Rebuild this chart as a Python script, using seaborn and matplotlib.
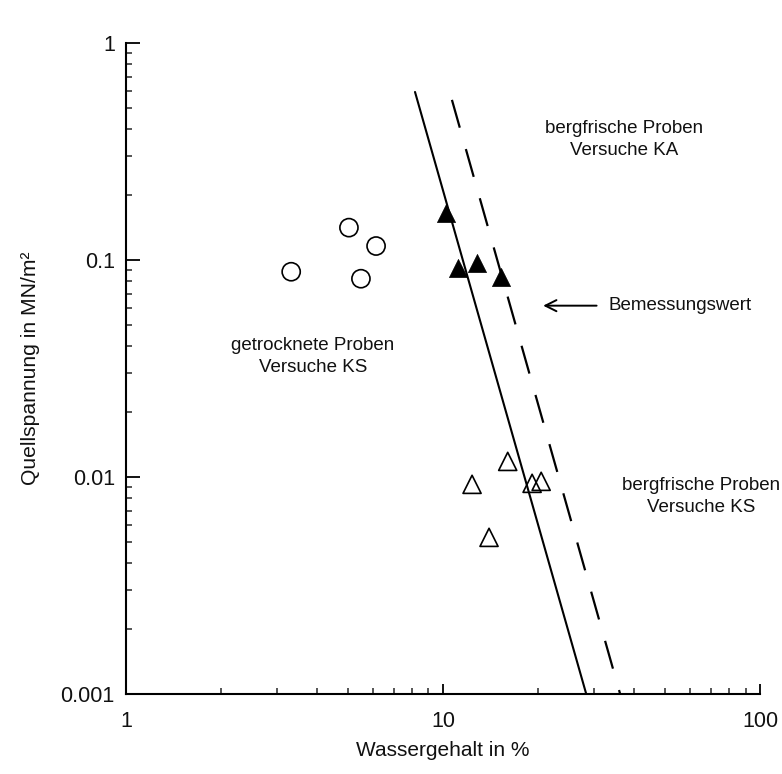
import numpy as np
import pandas as pd

import matplotlib
matplotlib.use('Agg')

import matplotlib.pyplot as plt
import matplotlib.ticker as mticker
import seaborn as sns


# =========================================================
# DATA
# =========================================================

# getrocknete Proben, Versuche KS (open circles)
ks_dry_w = [3.32, 5.05, 6.15, 5.51]
ks_dry_q = [0.0883, 0.141, 0.116, 0.082]

# bergfrische Proben, Versuche KA (filled triangles)
ka_w = [10.2, 11.15, 12.8, 15.2]
ka_q = [0.165, 0.0922, 0.0972, 0.0838]

# bergfrische Proben, Versuche KS (open triangles)
ks_w = [16.0, 12.35, 19.1, 20.4, 13.97]
ks_q = [0.0118, 0.00925, 0.00935, 0.00955, 0.00527]

# fitted line and design value line (end points)
fit_w = [8.16, 28.3]
fit_q = [0.595, 0.001]

design_w = [10.67, 36.2]
design_q = [0.547, 0.001]

x_ticks = [1, 10, 100]
x_tick_labels = ["1", "10", "100"]
y_ticks = [0.001, 0.01, 0.1, 1]
y_tick_labels = ["0.001", "0.01", "0.1", "1"]


# =========================================================
# STYLE
# =========================================================

sns.set_theme(style="ticks")

plt.rcParams['font.family'] = ['Liberation Sans', 'DejaVu Sans']

TEXT_COLOR = '#111111'

fig = plt.figure(figsize=(7.82, 7.74), dpi=100)

ax = fig.add_axes([0.1611, 0.1034, 0.8108, 0.841])


# =========================================================
# LINES
# =========================================================

sns.lineplot(
    x=fit_w,
    y=fit_q,
    color='black',
    linewidth=1.5,
    ax=ax,
    sort=False
)

sns.lineplot(
    x=design_w,
    y=design_q,
    color='black',
    linewidth=1.6,
    ax=ax,
    sort=False
).lines[-1].set_dashes((13, 10))


# =========================================================
# MARKERS
# =========================================================

sns.scatterplot(
    x=ks_dry_w,
    y=ks_dry_q,
    marker='o',
    s=170,
    facecolor='none',
    edgecolor='black',
    linewidth=1.2,
    ax=ax
)

sns.scatterplot(
    x=ka_w,
    y=ka_q,
    marker='^',
    s=170,
    color='black',
    edgecolor='black',
    linewidth=0.5,
    ax=ax
)

sns.scatterplot(
    x=ks_w,
    y=ks_q,
    marker='^',
    s=170,
    facecolor='none',
    edgecolor='black',
    linewidth=1.2,
    ax=ax
)


# =========================================================
# AXES
# =========================================================

ax.set_xscale('log')
ax.set_yscale('log')

ax.set_xlim(1, 100)
ax.set_ylim(0.001, 1)

ax.set_xticks(x_ticks)
ax.set_xticklabels(x_tick_labels)
ax.set_yticks(y_ticks)
ax.set_yticklabels(y_tick_labels)

ax.xaxis.set_minor_locator(mticker.LogLocator(base=10, subs=np.arange(2, 10)))
ax.yaxis.set_minor_locator(mticker.LogLocator(base=10, subs=np.arange(2, 10)))
ax.xaxis.set_minor_formatter(mticker.NullFormatter())
ax.yaxis.set_minor_formatter(mticker.NullFormatter())

ax.tick_params(axis='y', which='major', direction='in', length=10,
               width=1.3, pad=8, labelsize=15.5, colors='black',
               labelcolor=TEXT_COLOR)
ax.tick_params(axis='y', which='minor', direction='in', length=4.5,
               width=1.1)
ax.tick_params(axis='x', which='major', direction='in', length=7,
               width=1.3, pad=12, labelsize=15.5, colors='black',
               labelcolor=TEXT_COLOR)
ax.tick_params(axis='x', which='minor', direction='in', length=4,
               width=1.1)

for side in ['left', 'bottom']:
    ax.spines[side].set_linewidth(1.5)
    ax.spines[side].set_color('black')

sns.despine(ax=ax)

ax.set_xlabel("Wassergehalt in %", fontsize=15, labelpad=7, color=TEXT_COLOR)
ax.set_ylabel("Quellspannung in MN/m²", fontsize=15.2, labelpad=15,
              color=TEXT_COLOR)


# =========================================================
# ANNOTATIONS
# =========================================================

ax.text(37.2, 0.358, "bergfrische Proben\nVersuche KA",
        ha='center', va='center', fontsize=13.5, linespacing=1.4,
        color=TEXT_COLOR)

ax.text(3.89, 0.0359, "getrocknete Proben\nVersuche KS",
        ha='center', va='center', fontsize=13.5, linespacing=1.4,
        color=TEXT_COLOR)

ax.text(65.2, 0.00814, "bergfrische Proben\nVersuche KS",
        ha='center', va='center', fontsize=13.5, linespacing=1.4,
        color=TEXT_COLOR, clip_on=False)

ax.annotate(
    "Bemessungswert",
    xy=(20.7, 0.0616),
    xytext=(33.2, 0.0616),
    ha='left',
    va='center',
    fontsize=13.5,
    color=TEXT_COLOR,
    arrowprops=dict(arrowstyle='->', color='black', lw=1.4,
                    shrinkA=6, shrinkB=0, mutation_scale=20)
)


# =========================================================
# SAVE FIGURE
# =========================================================

plt.savefig("out.png", dpi=100)

plt.close()
